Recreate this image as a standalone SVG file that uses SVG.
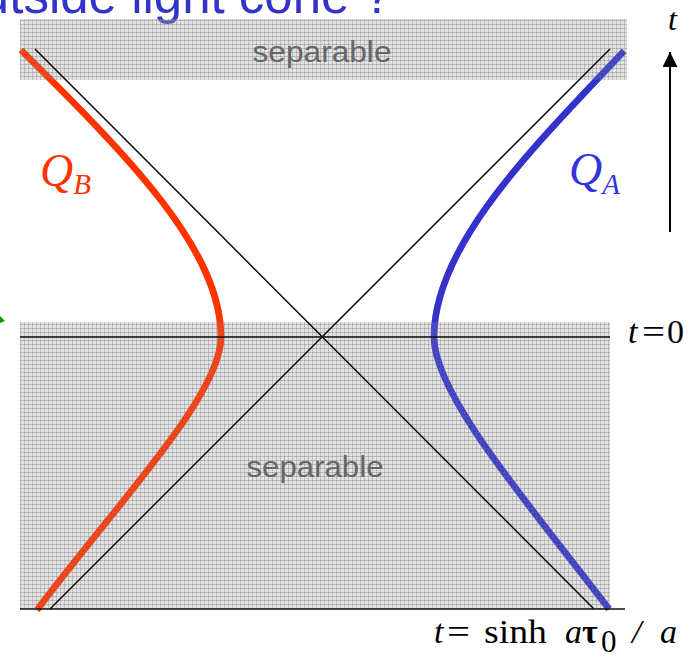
<svg xmlns="http://www.w3.org/2000/svg" width="693" height="657" viewBox="0 0 693 657">
<defs>
<pattern id="grid" width="4" height="4" patternUnits="userSpaceOnUse">
<rect width="4" height="4" fill="#a0a0a0" fill-opacity="0.3"/>
<rect width="4" height="1" fill="#888" fill-opacity="0.45"/>
<rect width="1" height="4" fill="#888" fill-opacity="0.4"/>
</pattern>
<marker id="ah" viewBox="0 0 10 10" refX="10" refY="5" markerWidth="15" markerHeight="15" markerUnits="userSpaceOnUse" orient="auto">
<path d="M0,0 L10,5 L0,10 z" fill="#000"/>
</marker>
<path id="qb" d="M21,50 C130,158 221,250 221,337 C221,395 120,500 37,610"/>
<path id="qa" d="M624,51 C535.5,145 434,244 434,337 C434,395 528,503 609,609"/>
</defs>
<style>
.sans{font-family:"Liberation Sans",Arial,sans-serif}
.serif{font-family:"Liberation Serif","Times New Roman",serif}
.it{font-style:italic}
.band{fill:url(#grid)}
.cone{stroke:#000;stroke-width:1.4;fill:none}
.axis{stroke:#111;stroke-width:1.6;fill:none}
.curve{fill:none;stroke-width:6.5;stroke-linecap:butt}
.red{stroke:#FF3300}
.blue{stroke:#3333CC}
.over{opacity:0.55}
.lbl{fill:#666;font-size:30px}
</style>
<rect width="693" height="657" fill="#fff"/>

<g id="title">
<text class="sans" x="392" y="13" text-anchor="end" font-size="51" fill="#3333CC">Outside light cone ?</text>
</g>

<g id="trajectories">
<use href="#qb" class="curve red"/>
<use href="#qa" class="curve blue"/>
</g>

<g id="regions">
<rect id="sep-top" class="band" x="20" y="19" width="607" height="61"/>
<rect id="sep-bottom" class="band" x="20" y="322" width="590" height="287"/>
</g>

<g id="trajectories-over" class="over">
<use href="#qb" class="curve red"/>
<use href="#qa" class="curve blue"/>
</g>

<g id="connectors">
<line class="cone" x1="35" y1="49" x2="594" y2="609"/>
<line class="cone" x1="50" y1="609" x2="610" y2="49"/>
<line class="axis" x1="20" y1="337" x2="610" y2="337"/>
<line class="axis" x1="20" y1="609" x2="625" y2="609" stroke="#333"/>
<line x1="670" y1="232" x2="670" y2="52" stroke="#000" stroke-width="2" marker-end="url(#ah)"/>
<polygon points="0,316 5,321 0,323" fill="#009900"/>
</g>

<g id="labels">
<text class="sans lbl" x="322" y="62" text-anchor="middle" textLength="139" lengthAdjust="spacingAndGlyphs">separable</text>
<text class="sans lbl" x="315" y="477" text-anchor="middle" textLength="137" lengthAdjust="spacingAndGlyphs">separable</text>
<text class="serif it" x="40" y="186" font-size="46" fill="#FF3300">Q<tspan font-size="29" y="194">B</tspan></text>
<text class="serif it" x="569" y="185" font-size="46" fill="#3333DD">Q<tspan font-size="29" y="194">A</tspan></text>
<text class="serif it" x="668" y="30" font-size="32" fill="#000">t</text>
<g id="t0" class="serif" font-size="34" fill="#000">
<text class="it" x="628" y="343">t</text>
<text transform="translate(642,343) scale(1.2,1)">=</text>
<text x="667" y="343">0</text>
</g>
<g id="tsinh" class="serif" font-size="34" fill="#000">
<text class="it" x="434" y="643">t</text>
<text transform="translate(447,643) scale(1.2,1)">=</text>
<text x="484" y="643" textLength="63" lengthAdjust="spacingAndGlyphs">sinh</text>
<text class="it" x="565" y="643">a</text>
<text x="582" y="643" font-weight="bold">τ</text>
<text x="601" y="652" font-size="31">0</text>
<text class="it" x="632" y="643">/</text>
<text class="it" x="660" y="643">a</text>
</g>
</g>
</svg>
